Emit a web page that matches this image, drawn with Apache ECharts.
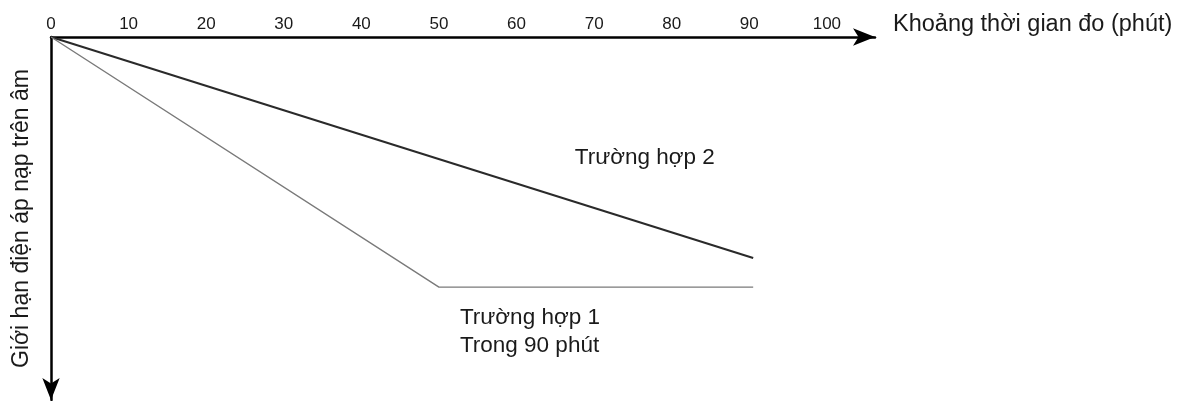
<!DOCTYPE html>
<html>
<head>
<meta charset="utf-8">
<style>
html,body{margin:0;padding:0;background:#fff;}
#chart{width:1178px;height:401px;}
</style>
<script src="https://cdn.jsdelivr.net/npm/echarts@6/dist/echarts.min.js"></script>
</head>
<body>
<div id="chart"></div>
<script>
// Data
const xTickValues = [0, 10, 20, 30, 40, 50, 60, 70, 80, 90, 100];
const case1X = [0, 50, 90.5];
const case1Y = [0, 68.9, 68.9];
const case2X = [0, 90.5];
const case2Y = [0, 60.9];
const xAxisName = 'Khoảng thời gian đo (phút)';
const yAxisName = 'Giới hạn điện áp nạp trên âm';
const case1Label = 'Trường hợp 1\nTrong 90 phút';
const case2Label = 'Trường hợp 2';
const case1Anchor = [52.7, 81.3];
const case2Anchor = [67.5, 33.3];

const FONT = '"Liberation Sans", Arial, sans-serif';
const chart = echarts.init(document.getElementById('chart'), null, {renderer: 'canvas'});

function zip(xs, ys) { return xs.map((x, i) => [x, ys[i]]); }

const option = {
  animation: false,
  backgroundColor: '#ffffff',
  grid: {left: 51, right: 303, top: 37, bottom: 1, containLabel: false},
  xAxis: {
    type: 'value',
    position: 'top',
    min: 0, max: 106.2, interval: 10,
    name: xAxisName,
    nameLocation: 'end',
    nameGap: 18,
    nameTextStyle: {fontFamily: FONT, fontSize: 23.5, color: '#1a1a1a', verticalAlign: 'bottom', align: 'left'},
    axisLine: {show: true, onZero: false, symbol: ['none', 'arrow'], symbolSize: [13, 22], lineStyle: {color: '#000', width: 2.5}},
    axisTick: {show: false},
    axisLabel: {
      show: true, margin: 4, fontFamily: FONT, fontSize: 17, color: '#1a1a1a',
      formatter: v => (xTickValues.indexOf(v) >= 0 ? String(v) : '')
    },
    splitLine: {show: false}
  },
  yAxis: {
    type: 'value',
    inverse: true,
    min: 0, max: 100,
    name: yAxisName,
    nameLocation: 'middle',
    nameRotate: 90,
    nameGap: 18,
    nameTextStyle: {fontFamily: FONT, fontSize: 23, color: '#1a1a1a'},
    axisLine: {show: true, onZero: false, symbol: ['arrow', 'none'], symbolSize: [13, 22], lineStyle: {color: '#000', width: 2.5}},
    axisTick: {show: false},
    axisLabel: {show: false},
    splitLine: {show: false}
  },
  series: [
    {
      type: 'line',
      data: zip(case2X, case2Y),
      symbol: 'none',
      lineStyle: {color: '#2a2a2a', width: 2},
      markPoint: {
        symbol: 'circle', symbolSize: 0,
        data: [{coord: case2Anchor}],
        label: {show: true, position: 'right', distance: 0, formatter: case2Label,
          fontFamily: FONT, fontSize: 22.5, color: '#1a1a1a'}
      }
    },
    {
      type: 'line',
      data: zip(case1X, case1Y),
      symbol: 'none',
      lineStyle: {color: '#7a7a7a', width: 1.4},
      markPoint: {
        symbol: 'circle', symbolSize: 0,
        data: [{coord: case1Anchor}],
        label: {show: true, position: 'right', distance: 0, formatter: case1Label,
          fontFamily: FONT, fontSize: 22.5, lineHeight: 28, color: '#1a1a1a', align: 'left'}
      }
    }
  ]
};
chart.setOption(option);
</script>
</body>
</html>
